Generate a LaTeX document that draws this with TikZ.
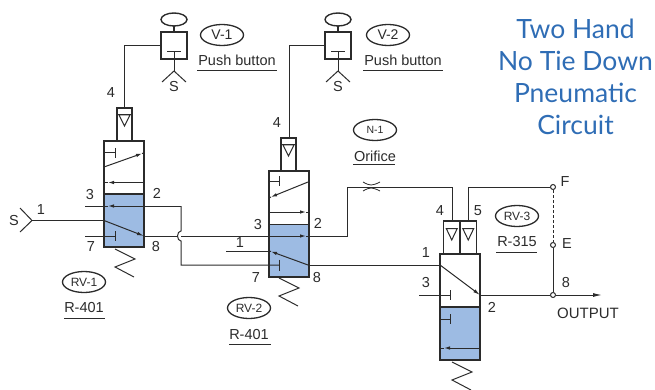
\documentclass[tikz,border=0pt]{standalone}
\usepackage{fontspec}
\setmainfont{Liberation Sans}
\newfontfamily\titlefont{Lato}
\usetikzlibrary{arrows.meta,shapes.geometric}
\definecolor{valveblue}{HTML}{9DBBE3}
\definecolor{inkc}{HTML}{2B2B2B}
\definecolor{titleblue}{HTML}{2F6DB5}
\tikzset{
 x=1pt,y=-1pt,
 pipe/.style={draw=inkc,line width=1pt},
 thick body/.style={draw=inkc,line width=1.6pt},
 lab/.style={inner sep=0pt,font=\fontsize{14.5}{14.5}\selectfont,text=inkc},
 under/.style={inner sep=0pt,font=\fontsize{14.5}{14.5}\selectfont,text=inkc},
 tag/.style={ellipse,draw=inkc,line width=1.3pt,inner sep=0pt,minimum width=43pt,minimum height=21pt,font=\fontsize{12}{12}\selectfont,text=inkc},
 rule/.style={draw=inkc,line width=1pt},
 flow/.style={-{Latex[length=6pt,width=3.5pt]}},
 joint/.style={circle,draw=inkc,line width=1pt,inner sep=0pt,minimum size=5pt,fill=white},
}
\newcommand{\bodybox}[5]{% name x top mid bottom
 \fill[white] (#2,#3) rectangle (#2+40,#4);
 \fill[valveblue] (#2,#4) rectangle (#2+40,#5);
 \draw[thick body] (#2,#3) rectangle (#2+40,#5);
 \draw[thick body] (#2,#4) -- (#2+40,#4);
}
\newcommand{\pilot}[4]{% x left, y top, width, height
 \draw[thick body] (#1,#2) rectangle (#1+#3,#2+#4);
 \draw[pipe] (#1,#2+6.5) -- (#1+#3,#2+6.5);
 \draw[pipe] (#1+#3/2-5.5,#2+7) -- (#1+#3/2+5.5,#2+7) -- (#1+#3/2,#2+18) -- cycle;
}
\newcommand{\pilotplain}[4]{% x left, y top, width, height
 \draw[thick body] (#1,#2) rectangle (#1+#3,#2+#4);
 \draw[pipe] (#1+#3/2-5.5,#2+7.5) -- (#1+#3/2+5.5,#2+7.5) -- (#1+#3/2,#2+19) -- cycle;
}
\newcommand{\zig}[2]{% x,y
 \draw[pipe] (#1,#2) -- (#1+20,#2+10) -- (#1,#2+18) -- (#1+19,#2+28);
}
\newcommand{\button}[2]{% x center, y top of box
 \draw[draw=inkc,line width=2.4pt] (#1,#2-6) -- (#1,#2);
 \draw[draw=inkc,line width=1.4pt] (#1,#2-12.5) ellipse (13pt and 6.5pt);
 \draw[thick body,fill=white] (#1-13,#2) rectangle (#1+13,#2+27);
 \draw[pipe] (#1-7,#2+20) -- (#1+7,#2+20);
 \draw[pipe] (#1,#2+20) -- (#1,#2+39);
 \draw[pipe] (#1-12,#2+50) -- (#1,#2+39) -- (#1+12,#2+50);
 \node[lab] at (#1,#2+55) {S};
}
\begin{document}
\begin{tikzpicture}
\useasboundingbox (0,0) rectangle (655,390);
% title
\node[align=center,text=titleblue,font=\titlefont\fontsize{26.5}{32}\selectfont,inner sep=0pt] (title) at (575.5,76.5) {Two Hand\\No Tie Down\\Pneumatic\\Circuit};
% bodies
\bodybox{a}{104}{141}{194}{247}
\bodybox{b}{269}{171}{224.5}{277}
\bodybox{c}{440}{254}{307}{360}
% pilots
\pilot{117}{108}{15}{33}
\pilot{281}{138}{15}{33}
\pilotplain{443.5}{221}{16.5}{33}
\pilotplain{460}{221}{16.5}{33}
% buttons
\button{174}{32}
\button{338}{32}
% pilot lines
\coordinate (v1) at (161,46); \coordinate (v1b) at (124,108);
\draw[pipe] (v1) -- (124,46) -- (v1b);
\coordinate (v2) at (325,46); \coordinate (v2b) at (289,138);
\draw[pipe] (v2) -- (289,46) -- (v2b);
% RV-1 internals
\draw[pipe] (104,153) -- (115,153); \draw[pipe] (115,148) -- (115,158);
\draw[pipe,flow] (104,167) -- (142,153.5);
\draw[pipe] (144,153) -- (142,153.5);
\draw[pipe,flow] (144,182.5) -- (108,182.5);
\draw[pipe] (108,182.5) -- (104,182.5);
\draw[pipe,flow] (181,206) -- (108,206);
\draw[pipe] (108,206) -- (85,206);
\draw[pipe] (181,206) -- (181,231) arc (90:270:3.5pt and 5pt) -- (181,265) -- (279,265);
\draw[pipe] (279,259.5) -- (279,270.5);
\draw[pipe] (32,220.5) -- (104,220.5);
\draw[pipe,-{Latex[length=7pt,width=3.5pt]}] (104,220.5) -- (144,236);
\draw[pipe] (85,236) -- (115,236); \draw[pipe] (115,231) -- (115,241);
\draw[pipe] (144,236) -- (177.5,236);
\draw[pipe] (181,236) -- (269,236);
\draw[pipe] (20,208) -- (32,220.5) -- (20,232);
\zig{115}{249}
% RV-2 internals
\draw[pipe] (269,181) -- (279,181); \draw[pipe] (279,176) -- (279,186);
\draw[pipe,flow] (308,182) -- (271,197);
\draw[pipe] (271,197) -- (269,198);
\draw[pipe,flow] (269,212) -- (306,212);
\draw[pipe] (306,212) -- (308,212);
\draw[pipe,flow] (269,236) -- (306,236);
\draw[pipe] (306,236) -- (347,236) -- (347,187) -- (452,187) -- (452,221);
\draw[pipe] (226,251) -- (269,251);
\draw[pipe,flow] (308,265) -- (271,251.5);
\draw[pipe] (271,251.5) -- (269,251);
\draw[pipe] (308,265) -- (440,265);
\zig{279}{278}
% orifice
\draw[pipe,line width=0.8pt] (363,182) .. controls (370,186) and (372,186) .. (380,182);
\draw[pipe,line width=0.8pt] (363,191) .. controls (370,187) and (372,187) .. (380,191);
% RV-3 internals
\draw[pipe,-{Latex[length=7pt,width=3.5pt]}] (440,265) -- (480,295);
\draw[pipe] (419,295) -- (450,295); \draw[pipe] (450,290) -- (450,300);
\draw[pipe] (440,319) -- (450,319); \draw[pipe] (450,314) -- (450,324);
\draw[pipe,flow] (480,348) -- (444,348);
\draw[pipe] (444,348) -- (440,348);
\zig{452}{362}
% right side
\node[joint] (f) at (553,187) {};
\node[joint] (e) at (553,245) {};
\node[joint] (o) at (553,295) {};
\coordinate (outend) at (602,295);
\draw[pipe] (468,221) -- (468,187) -- (f);
\draw[pipe,densely dashed] (f) -- (e);
\draw[pipe] (e) -- (o);
\draw[pipe] (480,295) -- (o);
\draw[pipe,-{Latex[length=9pt,width=4pt]}] (o) -- (outend);
% labels
\node[lab] at (111,93) {4};
\node[lab] at (277,123) {4};
\node[lab] at (14,221) {S};
\node[lab] at (41,210) {1};
\node[lab] at (90,195) {3};
\node[lab] at (157,193) {2};
\node[lab] at (91,247) {7};
\node[lab] at (156,247) {8};
\node[lab] at (258,225) {3};
\node[lab] at (318,223) {2};
\node[lab] at (240,243) {1};
\node[lab] at (256,278) {7};
\node[lab] at (317,278) {8};
\node[lab] at (426,253) {1};
\node[lab] at (426,283) {3};
\node[lab] at (440,211) {4};
\node[lab] at (478,211) {5};
\node[lab] at (492,307) {2};
\node[lab] at (565,182) {F};
\node[lab] at (567,244) {E};
\node[lab] at (566,283) {8};
\node[lab,anchor=west,font=\fontsize{15}{15}\selectfont] at (557,313) {OUTPUT};
% tags
\node[tag,font=\fontsize{14}{14}\selectfont] at (222,35) {V-1};
\node[under] at (237,60) {Push button};
\draw[rule] (197,71) -- (277,71);
\node[tag,font=\fontsize{14}{14}\selectfont] at (388,35) {V-2};
\node[under] at (403,60) {Push button};
\draw[rule] (363,71) -- (443,71);
\node[tag,font=\fontsize{10.5}{10.5}\selectfont] at (375,130) {N-1};
\node[under] at (375,156) {Orifice};
\draw[rule] (353,165) -- (395,165);
\node[tag] at (84,282) {RV-1};
\node[under] at (84,308) {R-401};
\draw[rule] (64,318) -- (105,318);
\node[tag] at (249,308) {RV-2};
\node[under] at (249,335) {R-401};
\draw[rule] (229,344) -- (271,344);
\node[tag] at (517,216) {RV-3};
\node[under] at (517,242) {R-315};
\draw[rule] (496,252) -- (537,252);
\end{tikzpicture}
\end{document}
